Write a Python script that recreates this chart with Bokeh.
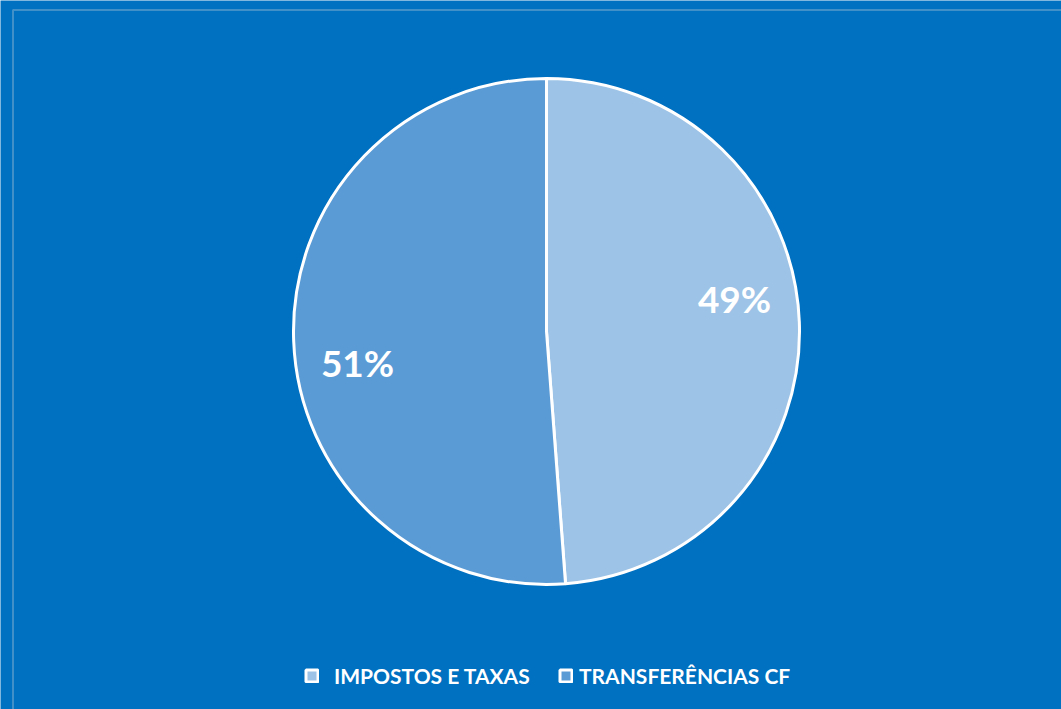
import numpy as np
from bokeh.plotting import figure
from bokeh.models import Range1d, Legend, LegendItem, BoxAnnotation
from bokeh.core.properties import value
from bokeh.embed import file_html
from bokeh.resources import INLINE

# ---- data ----
categories = ["IMPOSTOS E TAXAS", "TRANSFERÊNCIAS CF"]
shares = [48.8, 51.2]
colors = ["#9DC3E6", "#5B9BD5"]

W, H = 1061, 709
BG = "#0070C0"

p = figure(width=W, height=H, output_backend="svg", toolbar_location=None,
           x_range=Range1d(0, W), y_range=Range1d(0, H),
           min_border=0, min_border_left=0, min_border_right=0,
           min_border_top=0, min_border_bottom=0)
p.axis.visible = False
p.grid.visible = False
p.outline_line_color = None
p.background_fill_color = BG
p.border_fill_color = BG

# chart-area border (Excel style)
p.add_layout(BoxAnnotation(left=12.5, right=W + 50, top=H - 9.5, bottom=-50,
                           fill_alpha=0, line_color="#D9D9D9", line_width=2))

# pie geometry
cx, cy, r = 546, 378, 253
vals = np.array(shares, dtype=float)
frac = vals / vals.sum()
cum = np.concatenate([[0], np.cumsum(frac)])
start = np.pi / 2 - 2 * np.pi * cum[:-1]
end = np.pi / 2 - 2 * np.pi * cum[1:]

renderers = []
for i in range(len(vals)):
    rr = p.wedge(x=cx, y=cy, radius=r, start_angle=start[i], end_angle=end[i],
                 direction="clock", fill_color=colors[i], line_color="white", line_width=3)
    renderers.append(rr)

# percentage labels
labels = [f"{round(f * 100):.0f}%" for f in frac]
label_pos = [(cx + 188, cy + 33), (cx - 189, cy - 31)]
p.text(x=[pp[0] for pp in label_pos], y=[pp[1] for pp in label_pos], text=labels,
       text_font=value("Lato"), text_font_style="bold", text_font_size="37px",
       text_color="white", text_align="center", text_baseline="middle")

# legends (two, positioned individually as in the original)
leg_x = [304, 558]
standoff = [15, 6]
for i in range(len(vals)):
    lg = Legend(items=[LegendItem(label=categories[i], renderers=[renderers[i]])],
                location=(leg_x[i], 21), orientation="horizontal",
                padding=0, margin=0, spacing=0, border_line_color=None,
                background_fill_alpha=0, glyph_width=15, glyph_height=15,
                label_standoff=standoff[i], label_text_font="Lato",
                label_text_font_style="bold", label_text_font_size="21px",
                label_text_color="white", label_height=20)
    p.add_layout(lg, "center")

open("out.html", "w").write(file_html(p, INLINE))
